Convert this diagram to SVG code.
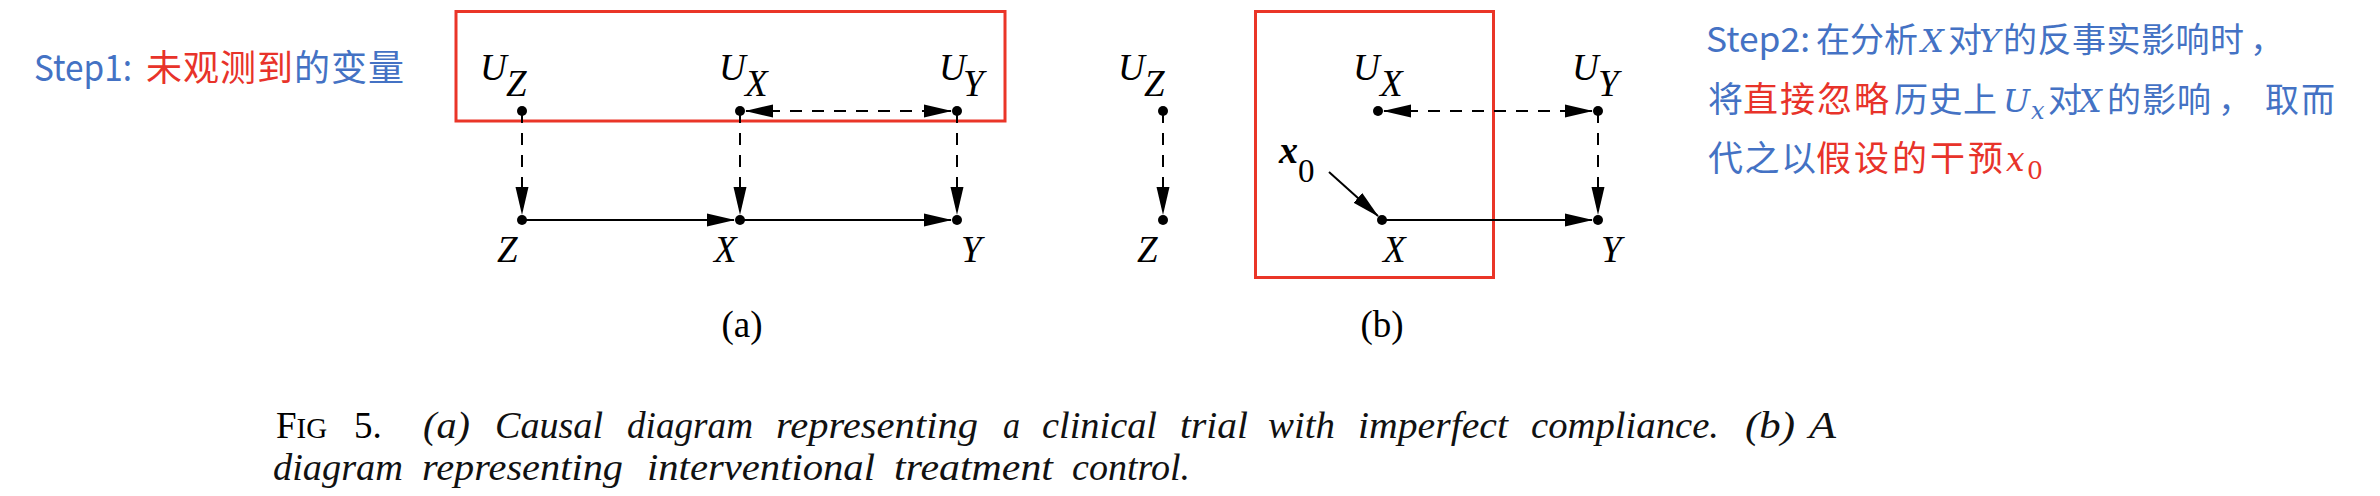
<svg xmlns="http://www.w3.org/2000/svg" width="2380" height="496" viewBox="0 0 2380 496">
<style>
.bg{fill:#fff}
.frame{fill:none;stroke:#ea3528;stroke-width:3}
.dot{fill:#000}
.m{font-family:"Liberation Serif","Times New Roman",serif;font-style:italic;font-size:37px;fill:#000}
.r{font-family:"Liberation Serif","Times New Roman",serif;font-size:37px;fill:#000}
.cap{font-family:"Liberation Serif","Times New Roman",serif;font-style:italic;font-size:37px;fill:#111}
.solid{stroke:#000;stroke-width:2;fill:none}
.dash{stroke:#000;stroke-width:2;fill:none;stroke-dasharray:12 10}
.zh{font-family:"Noto Sans CJK SC","Noto Sans",sans-serif;font-size:34px}
.mt{font-family:"DejaVu Serif","Liberation Serif",serif;font-style:italic;font-size:32px}
.b{fill:#4472c4}
.red{fill:#e8332a}
</style>
<defs>
<marker id="ah" markerUnits="userSpaceOnUse" markerWidth="28" markerHeight="14" viewBox="0 0 28 14" refX="27" refY="7" orient="auto-start-reverse">
<path d="M0,0.5 L28,7 L0,13.5 z" fill="#000"/>
</marker>
</defs>
<rect class="bg" x="0" y="0" width="2380" height="496"/>

<g id="step1">
<text class="zh b" x="34" y="81" style="font-size:36px" textLength="98" lengthAdjust="spacingAndGlyphs">Step1:</text>
<text class="zh red" x="146" y="81" style="font-size:36px;letter-spacing:1px">未观测到</text>
<text class="zh b" x="294" y="81" style="font-size:36px;letter-spacing:1px">的变量</text>
</g>

<g id="frames">
<rect class="frame" x="456" y="11.5" width="549" height="109.5"/>
<rect class="frame" x="1255.5" y="11.5" width="238" height="266"/>
</g>

<g id="connectors">
<line class="dash" x1="522" y1="111" x2="522" y2="214" marker-end="url(#ah)"/>
<line class="dash" x1="740" y1="111" x2="740" y2="214" marker-end="url(#ah)"/>
<line class="dash" x1="957" y1="111" x2="957" y2="214" marker-end="url(#ah)"/>
<line class="dash" x1="746" y1="111" x2="951" y2="111" marker-start="url(#ah)" marker-end="url(#ah)"/>
<line class="solid" x1="522" y1="220" x2="734" y2="220" marker-end="url(#ah)"/>
<line class="solid" x1="740" y1="220" x2="951" y2="220" marker-end="url(#ah)"/>
<line class="dash" x1="1163" y1="111" x2="1163" y2="214" marker-end="url(#ah)"/>
<line class="dash" x1="1598" y1="111" x2="1598" y2="214" marker-end="url(#ah)"/>
<line class="dash" x1="1384" y1="111" x2="1592" y2="111" marker-start="url(#ah)" marker-end="url(#ah)"/>
<line class="solid" x1="1382" y1="220" x2="1592" y2="220" marker-end="url(#ah)"/>
<line class="solid" x1="1329" y1="172" x2="1378" y2="216" marker-end="url(#ah)"/>
</g>

<g id="a-UZ"><circle class="dot" cx="522" cy="111" r="5"/><text class="m" x="480" y="80">U</text><text class="m" x="506" y="96">Z</text></g>
<g id="a-UX"><circle class="dot" cx="740" cy="111" r="5"/><text class="m" x="719" y="80">U</text><text class="m" x="745" y="96">X</text></g>
<g id="a-UY"><circle class="dot" cx="957" cy="111" r="5"/><text class="m" x="939" y="80">U</text><text class="m" x="963" y="96">Y</text></g>
<g id="a-Z"><circle class="dot" cx="522" cy="220" r="5"/><text class="m" x="497" y="262">Z</text></g>
<g id="a-X"><circle class="dot" cx="740" cy="220" r="5"/><text class="m" x="714" y="262">X</text></g>
<g id="a-Y"><circle class="dot" cx="957" cy="220" r="5"/><text class="m" x="961" y="262">Y</text></g>
<text class="r" x="742" y="337" text-anchor="middle">(a)</text>

<g id="b-UZ"><circle class="dot" cx="1163" cy="111" r="5"/><text class="m" x="1118" y="80">U</text><text class="m" x="1144" y="96">Z</text></g>
<g id="b-UX"><circle class="dot" cx="1378" cy="111" r="5"/><text class="m" x="1353" y="80">U</text><text class="m" x="1380" y="96">X</text></g>
<g id="b-UY"><circle class="dot" cx="1598" cy="111" r="5"/><text class="m" x="1572" y="80">U</text><text class="m" x="1598" y="96">Y</text></g>
<g id="b-Z"><circle class="dot" cx="1163" cy="220" r="5"/><text class="m" x="1137" y="262">Z</text></g>
<g id="b-X"><circle class="dot" cx="1382" cy="220" r="5"/><text class="m" x="1383" y="262">X</text></g>
<g id="b-Y"><circle class="dot" cx="1598" cy="220" r="5"/><text class="m" x="1601" y="262">Y</text></g>
<g id="b-x0"><text class="m" x="1279" y="163" style="font-weight:bold;font-size:38px">x</text><text class="r" x="1298" y="182" style="font-size:33px">0</text></g>
<text class="r" x="1382" y="337" text-anchor="middle">(b)</text>

<g id="step2">
<text class="zh b" x="1706" y="52" textLength="104" lengthAdjust="spacingAndGlyphs">Step2:</text>
<text class="zh b" x="1816" y="52">在分析</text>
<text class="mt b" x="1921" y="52">X</text>
<text class="zh b" x="1948" y="52">对</text>
<text class="mt b" x="1979" y="52">Y</text>
<text class="zh b" x="2003" y="52" style="letter-spacing:0.5px">的反事实影响时</text>
<text class="zh b" x="2250" y="52">，</text>

<text class="zh b" x="1708" y="112" style="font-size:35px">将</text>
<text class="zh red" x="1743" y="112" style="font-size:35px;letter-spacing:2px">直接忽略</text>
<text class="zh b" x="1894" y="112" style="letter-spacing:0.5px">历史上</text>
<text class="mt b" x="2003" y="112">U</text>
<text class="mt b" x="2031" y="119" style="font-size:24px">x</text>
<text class="zh b" x="2048" y="112">对</text>
<text class="mt b" x="2079" y="112">X</text>
<text class="zh b" x="2107" y="112" style="letter-spacing:1px">的影响</text>
<text class="zh b" x="2218" y="112">，</text>
<text class="zh b" x="2265" y="112" style="letter-spacing:2px">取而</text>

<text class="zh b" x="1708" y="171" style="font-size:35px;letter-spacing:1.5px">代之以</text>
<text class="zh red" x="1816" y="171" style="font-size:35px;letter-spacing:3px">假设的干预</text>
<text class="mt red" x="2006" y="171" style="font-size:33px">x</text>
<text class="mt red" x="2027" y="179" style="font-size:25px;font-style:normal">0</text>
</g>

<g id="caption">
<text class="r" x="276" y="438">F<tspan style="font-size:29px">IG</tspan></text>
<text class="r" x="354" y="438">5.</text>
<text class="cap" x="423" y="438" textLength="47" lengthAdjust="spacingAndGlyphs">(a)</text>
<text class="cap" x="495" y="438" textLength="108" lengthAdjust="spacingAndGlyphs">Causal</text>
<text class="cap" x="627" y="438" textLength="126" lengthAdjust="spacingAndGlyphs">diagram</text>
<text class="cap" x="776" y="438" textLength="202" lengthAdjust="spacingAndGlyphs">representing</text>
<text class="cap" x="1003" y="438" textLength="17" lengthAdjust="spacingAndGlyphs">a</text>
<text class="cap" x="1042" y="438" textLength="115" lengthAdjust="spacingAndGlyphs">clinical</text>
<text class="cap" x="1180" y="438" textLength="68" lengthAdjust="spacingAndGlyphs">trial</text>
<text class="cap" x="1268" y="438" textLength="67" lengthAdjust="spacingAndGlyphs">with</text>
<text class="cap" x="1358" y="438" textLength="150" lengthAdjust="spacingAndGlyphs">imperfect</text>
<text class="cap" x="1531" y="438" textLength="188" lengthAdjust="spacingAndGlyphs">compliance.</text>
<text class="cap" x="1745" y="438" textLength="50" lengthAdjust="spacingAndGlyphs">(b)</text>
<text class="cap" x="1809" y="438" textLength="27" lengthAdjust="spacingAndGlyphs">A</text>
<text class="cap" x="273" y="480" textLength="130" lengthAdjust="spacingAndGlyphs">diagram</text>
<text class="cap" x="422" y="480" textLength="201" lengthAdjust="spacingAndGlyphs">representing</text>
<text class="cap" x="647" y="480" textLength="228" lengthAdjust="spacingAndGlyphs">interventional</text>
<text class="cap" x="894" y="480" textLength="159" lengthAdjust="spacingAndGlyphs">treatment</text>
<text class="cap" x="1072" y="480" textLength="118" lengthAdjust="spacingAndGlyphs">control.</text>
</g>
</svg>
